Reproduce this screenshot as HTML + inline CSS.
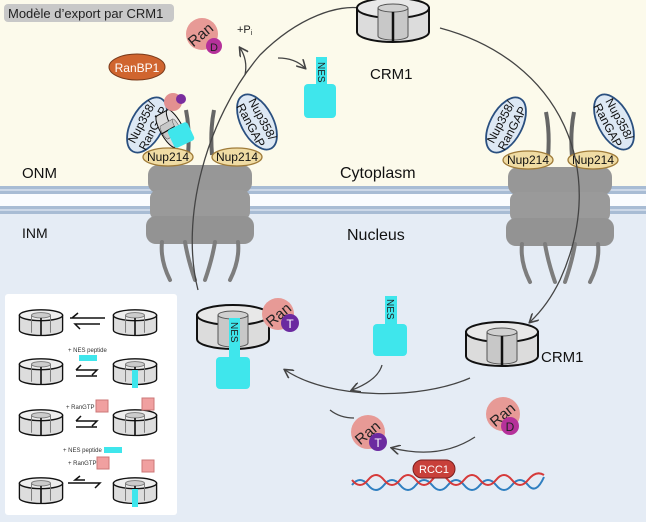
<!DOCTYPE html>
<html><head><meta charset="utf-8"><style>
body{margin:0;width:646px;height:522px;overflow:hidden;font-family:"Liberation Sans",sans-serif}
</style></head><body>
<svg width="646" height="522" viewBox="0 0 646 522" xmlns="http://www.w3.org/2000/svg" font-family="Liberation Sans, sans-serif">
<defs>
<g id="ring">
<path d="M-36,-10 L-36,14 A36,10 0 0 0 36,14 L36,-10 Z" fill="#dcdcdc" stroke="#111" stroke-width="2"/>
<ellipse cx="0" cy="-10" rx="36" ry="10" fill="#e8e8e8" stroke="#111" stroke-width="2"/>
<path d="M-15,-10 L-15,18 A15,4 0 0 0 15,18 L15,-10" fill="#c8c8c8" stroke="#555" stroke-width="1"/>
<ellipse cx="0" cy="-10" rx="15" ry="4" fill="#d0d0d0" stroke="#555" stroke-width="1"/>
<line x1="0" y1="-6" x2="0" y2="23" stroke="#111" stroke-width="2.5"/>
</g>
<g id="sring0">
<path d="M-16,-5 L-16,6 A16,4 0 0 0 16,6 L16,-5 Z" fill="#ddd" stroke="#111" stroke-width="1"/>
<ellipse cx="0" cy="-5" rx="16" ry="4" fill="#eee" stroke="#111" stroke-width="1"/>
<path d="M-7,-5 L-7,8 M7,-5 L7,8" stroke="#777" stroke-width="0.7"/>
<ellipse cx="0" cy="-5" rx="7" ry="2" fill="#ccc" stroke="#777" stroke-width="0.7"/>
<line x1="0" y1="-3" x2="0" y2="10" stroke="#111" stroke-width="1.2"/>
</g>
<g id="sring"><use href="#sring0" transform="scale(1.35)"/></g>
<g id="pore">
<rect x="-52" y="-5" width="104" height="28" rx="10" fill="#979797"/>
<rect x="-50" y="20" width="100" height="30" rx="8" fill="#9a9a9a"/>
<rect x="-54" y="46" width="108" height="28" rx="10" fill="#939393"/>
<path d="M-38,72 Q-40,90 -30,110 M-15,72 Q-12,90 -5,110 M15,72 Q12,90 5,110 M38,72 Q40,90 30,110" stroke="#7d7d7d" stroke-width="4" fill="none" stroke-linecap="round"/>
<path d="M-12,-15 Q-10,-40 -14,-60 M12,-15 Q10,-40 14,-60" stroke="#666" stroke-width="4" fill="none"/>
</g>
<marker id="ah" markerWidth="10" markerHeight="10" refX="8" refY="5" orient="auto" markerUnits="userSpaceOnUse"><path d="M0,0 L9,5 L0,10" fill="none" stroke="#444" stroke-width="1.6"/></marker>
</defs>
<rect width="646" height="190" fill="#fcfaeb"/>
<rect y="190" width="646" height="332" fill="#e5ecf5"/>
<rect y="186" width="646" height="8" fill="#a8bcd4"/>
<line x1="0" y1="190" x2="646" y2="190" stroke="#d8e2ee" stroke-width="1.5"/>
<rect y="194" width="646" height="12" fill="#fafcfe"/>
<rect y="206" width="646" height="8" fill="#a8bcd4"/>
<line x1="0" y1="210" x2="646" y2="210" stroke="#d8e2ee" stroke-width="1.5"/>

<rect x="4" y="4" width="170" height="18" rx="4" fill="#c8c8c8"/>
<text x="8" y="18" font-size="13" fill="#222">Modèle d’export par CRM1</text>

<use href="#pore" x="200" y="170"/>
<use href="#pore" x="560" y="172"/>

<g font-size="12">
<g transform="translate(147,125) rotate(-62)"><ellipse rx="30" ry="16" fill="#dde8f4" stroke="#2a4f7f" stroke-width="1.8"/><text x="0" y="-2" text-anchor="middle" fill="#111">Nup358/</text><text x="0" y="11" text-anchor="middle" fill="#111">RanGAP</text></g>
<g transform="translate(257,122) rotate(62)"><ellipse rx="30" ry="16" fill="#dde8f4" stroke="#2a4f7f" stroke-width="1.8"/><text x="0" y="-2" text-anchor="middle" fill="#111">Nup358/</text><text x="0" y="11" text-anchor="middle" fill="#111">RanGAP</text></g>
<g transform="translate(506,125) rotate(-62)"><ellipse rx="30" ry="16" fill="#dde8f4" stroke="#2a4f7f" stroke-width="1.8"/><text x="0" y="-2" text-anchor="middle" fill="#111">Nup358/</text><text x="0" y="11" text-anchor="middle" fill="#111">RanGAP</text></g>
<g transform="translate(614,122) rotate(62)"><ellipse rx="30" ry="16" fill="#dde8f4" stroke="#2a4f7f" stroke-width="1.8"/><text x="0" y="-2" text-anchor="middle" fill="#111">Nup358/</text><text x="0" y="11" text-anchor="middle" fill="#111">RanGAP</text></g>
</g>
<g font-size="12">
<ellipse cx="168" cy="157" rx="25" ry="9" fill="#f0dca4" stroke="#a07c3a" stroke-width="1.3"/><text x="168" y="161" text-anchor="middle" fill="#111">Nup214</text>
<ellipse cx="237" cy="157" rx="25" ry="9" fill="#f0dca4" stroke="#a07c3a" stroke-width="1.3"/><text x="237" y="161" text-anchor="middle" fill="#111">Nup214</text>
<ellipse cx="528" cy="160" rx="25" ry="9" fill="#f0dca4" stroke="#a07c3a" stroke-width="1.3"/><text x="528" y="164" text-anchor="middle" fill="#111">Nup214</text>
<ellipse cx="593" cy="160" rx="25" ry="9" fill="#f0dca4" stroke="#a07c3a" stroke-width="1.3"/><text x="593" y="164" text-anchor="middle" fill="#111">Nup214</text>
</g>
<g transform="translate(172,128) rotate(60) scale(0.5)"><use href="#ring"/></g>
<rect x="170" y="125" width="22" height="20" rx="3" fill="#3fe6ec" transform="rotate(-25 181 135)"/>
<circle cx="173" cy="102" r="9" fill="#e29090"/><circle cx="181" cy="99" r="5" fill="#7a2d9e"/>

<ellipse cx="137" cy="67" rx="28" ry="13" fill="#d0652f" stroke="#7a3a1a" stroke-width="1"/>
<text x="137" y="72" font-size="12" fill="#fff" text-anchor="middle">RanBP1</text>

<circle cx="202" cy="34" r="16" fill="#e79a96"/>
<text x="200" y="40" font-size="15" transform="rotate(-40 200 34)" text-anchor="middle" fill="#222">Ran</text>
<circle cx="214" cy="46" r="8" fill="#b5319a"/><text x="214" y="51" font-size="11" text-anchor="middle" fill="#222">D</text>
<text x="237" y="33" font-size="11" fill="#222">+P<tspan font-size="7" dy="2">i</tspan></text>

<path d="M198,290 C180,220 205,120 260,55 C300,15 340,5 360,8" fill="none" stroke="#444" stroke-width="1.3"/>
<path d="M245,75 Q248,60 240,48" fill="none" stroke="#444" stroke-width="1.3" marker-end="url(#ah)"/>
<path d="M278,58 Q295,58 305,68" fill="none" stroke="#444" stroke-width="1.3" marker-end="url(#ah)"/>
<path d="M440,28 C560,60 610,170 560,280 Q548,305 530,322" fill="none" stroke="#444" stroke-width="1.3" marker-end="url(#ah)"/>
<path d="M470,378 C420,400 330,400 285,370" fill="none" stroke="#444" stroke-width="1.3" marker-end="url(#ah)"/>
<path d="M382,365 Q378,380 352,390" fill="none" stroke="#444" stroke-width="1.3" marker-end="url(#ah)"/>
<path d="M475,437 Q440,460 392,448" fill="none" stroke="#444" stroke-width="1.3" marker-end="url(#ah)"/>
<path d="M330,410 Q340,418 354,418" fill="none" stroke="#444" stroke-width="1.3"/>

<use href="#ring" x="393" y="18"/>
<text x="370" y="79" font-size="15" fill="#111">CRM1</text>
<rect x="316" y="57" width="11" height="32" fill="#3fe6ec"/>
<text x="318" y="62" font-size="10" transform="rotate(90 318 62)" fill="#222">NES</text>
<rect x="304" y="84" width="32" height="34" rx="4" fill="#3fe6ec"/>

<text x="340" y="178" font-size="16" fill="#111">Cytoplasm</text>
<text x="347" y="240" font-size="16" fill="#111">Nucleus</text>
<text x="22" y="178" font-size="15" fill="#111">ONM</text>
<text x="22" y="238" font-size="14" fill="#111">INM</text>

<use href="#ring" x="233" y="325"/>
<rect x="229" y="318" width="11" height="44" fill="#3fe6ec"/>
<text x="231" y="322" font-size="10" transform="rotate(90 231 322)" fill="#222">NES</text>
<rect x="216" y="357" width="34" height="32" rx="4" fill="#3fe6ec"/>
<circle cx="278" cy="314" r="16" fill="#e79a96"/>
<text x="278" y="320" font-size="15" transform="rotate(-40 278 314)" text-anchor="middle" fill="#222">Ran</text>
<circle cx="290" cy="323" r="9" fill="#6b2aa0"/><text x="290" y="328" font-size="12" text-anchor="middle" fill="#fff">T</text>

<rect x="385" y="296" width="12" height="34" fill="#3fe6ec"/>
<text x="387" y="299" font-size="10" transform="rotate(90 387 299)" fill="#222">NES</text>
<rect x="373" y="324" width="34" height="32" rx="4" fill="#3fe6ec"/>

<use href="#ring" x="502" y="342"/>
<text x="541" y="362" font-size="15" fill="#111">CRM1</text>

<circle cx="368" cy="432" r="17" fill="#e79a96"/>
<text x="367" y="438" font-size="15" transform="rotate(-40 367 432)" text-anchor="middle" fill="#222">Ran</text>
<circle cx="378" cy="442" r="9" fill="#6b2aa0"/><text x="378" y="447" font-size="12" text-anchor="middle" fill="#fff">T</text>
<circle cx="503" cy="414" r="17" fill="#e79a96"/>
<text x="502" y="420" font-size="15" transform="rotate(-40 502 414)" text-anchor="middle" fill="#222">Ran</text>
<circle cx="510" cy="426" r="9" fill="#b5319a"/><text x="510" y="431" font-size="12" text-anchor="middle" fill="#222">D</text>

<path d="M352,485 q8,-10 16,0 t16,0 t16,0 t16,0 t16,0 t16,0 t16,0 t16,0 t16,0 t16,0 t16,0 t16,-8" fill="none" stroke="#2f7fc0" stroke-width="2"/>
<path d="M352,480 q8,10 16,0 t16,0 t16,0 t16,0 t16,0 t16,0 t16,0 t16,0 t16,0 t16,0 t16,0 t16,-5" fill="none" stroke="#d63a3a" stroke-width="2"/>
<rect x="413" y="460" width="42" height="18" rx="9" fill="#c8403a" stroke="#7a1e1e"/>
<text x="434" y="473" font-size="11" fill="#fff" text-anchor="middle">RCC1</text>

<rect x="5" y="294" width="172" height="221" rx="3" fill="#fff"/>
<g>
<use href="#sring" x="41" y="322"/><use href="#sring" x="135" y="322"/>
<path d="M70,318 L105,318 M72,318 l6,-5 M100,324 L75,324 l5,5" stroke="#111" stroke-width="1.5" fill="none"/>
<use href="#sring" x="41" y="371"/><use href="#sring" x="135" y="371"/><rect x="132" y="370" width="6" height="18" fill="#3fe6ec"/>
<text x="68" y="352" font-size="6" fill="#333">+ NES peptide</text><rect x="79" y="355" width="18" height="6" fill="#3fe6ec"/>
<path d="M76,370 L97,370 l-5,5 M76,376 L97,376 M76,370 l5,-5" stroke="#111" stroke-width="1.5" fill="none"/>
<use href="#sring" x="41" y="422"/><use href="#sring" x="135" y="422"/>
<text x="66" y="409" font-size="6" fill="#333">+ RanGTP</text><rect x="96" y="400" width="12" height="12" fill="#f0a0a0" stroke="#c77"/><rect x="142" y="398" width="12" height="12" fill="#f0a0a0" stroke="#c77"/>
<path d="M76,421 L97,421 l-5,5 M76,427 L97,427 M76,421 l5,-5" stroke="#111" stroke-width="1.5" fill="none"/>
<use href="#sring" x="41" y="490"/><use href="#sring" x="135" y="490"/><rect x="132" y="489" width="6" height="18" fill="#3fe6ec"/>
<text x="63" y="452" font-size="6" fill="#333">+ NES peptide</text><rect x="104" y="447" width="18" height="6" fill="#3fe6ec"/>
<text x="68" y="465" font-size="6" fill="#333">+ RanGTP</text><rect x="97" y="457" width="12" height="12" fill="#f0a0a0" stroke="#c77"/><rect x="142" y="460" width="12" height="12" fill="#f0a0a0" stroke="#c77"/>
<path d="M68,483 L100,483 l-5,5 M80,476 l-5,4 l10,0" stroke="#111" stroke-width="1.5" fill="none"/>
</g>
</svg>
</body></html>
